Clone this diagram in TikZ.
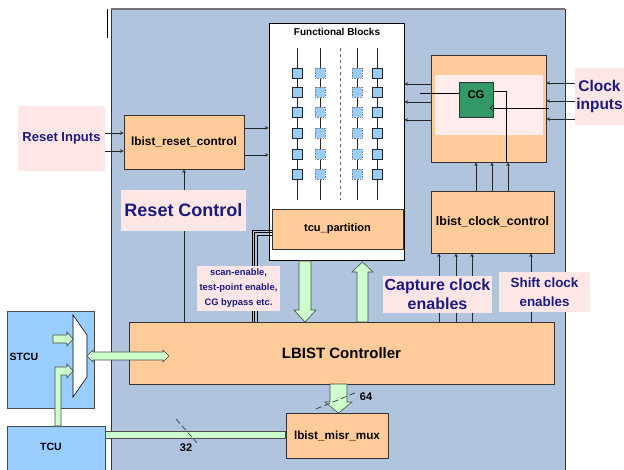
\documentclass[tikz,border=0pt]{standalone}
\usepackage{fontspec}
\setmainfont{Liberation Sans}
\definecolor{panelblue}{RGB}{176,196,222}
\definecolor{blkorange}{RGB}{255,204,153}
\definecolor{lblpink}{RGB}{255,230,230}
\definecolor{cellblue}{RGB}{153,204,255}
\definecolor{busgreen}{RGB}{204,255,204}
\definecolor{cggreen}{RGB}{51,153,102}
\definecolor{lblnavy}{RGB}{26,26,128}
\newcommand{\txtsz}[2]{\fontsize{#1}{#2}\selectfont\bfseries}
\tikzset{
  blk/.style={draw=black!80,fill=blkorange,line width=0.8pt,inner sep=0pt},
  lbl/.style={fill=lblpink,text=lblnavy,align=center,inner sep=0pt},
  sig/.style={->,black!85,line width=0.6pt},
  bus/.style={draw=black!70,fill=busgreen,line width=0.6pt},
  cell/.style={draw=black!85,fill=cellblue,minimum size=10pt,inner sep=0pt,line width=0.6pt},
  cellx/.style={cell,draw=black!50,densely dotted},
  slash/.style={black!85,line width=0.6pt,dash pattern=on 6pt off 3pt}
}
\begin{document}
\begin{tikzpicture}[x=1pt,y=-1pt,>=stealth]
\useasboundingbox (0,0) rectangle (624,470);
% panel
\fill[panelblue] (111,9) rectangle (565,472);
\draw[black!80,line width=0.8pt] (111,472)--(111,9) (565,9)--(565,472);
\draw[black!55,line width=1.5pt] (111,9)--(565,9);
\draw[line width=0.8pt] (107,9)--(107,38);
% functional blocks
\node[draw,fill=white,line width=1pt,minimum width=135pt,minimum height=237pt] (fb) at (336.5,142.5) {};
\node[font=\txtsz{10}{12}] (fbtitle) at (337,32) {Functional Blocks};
\foreach \cx/\st in {297/cell,320/cellx,357/cellx,377/cell}{
  \draw[black!85,line width=0.6pt] (\cx,48)--(\cx,200);
  \foreach \cy in {73,92,112,133,154,174}
    \node[\st] (c-\cx-\cy) at (\cx,\cy) {};
}
\draw[black!60,dashed,line width=1pt] (340,48)--(340,200);
\node[blk,minimum width=131pt,minimum height=40pt,font=\txtsz{11}{13}] (tcup) at (337.5,229) {tcu\_partition};
% blocks
\node[blk,minimum width=120pt,minimum height=54pt,font=\txtsz{11.8}{14}] (rst) at (184,142) {lbist\_reset\_control};
\node[blk,minimum width=115pt,minimum height=107pt] (clkbox) at (488.5,108.5) {};
\fill[lblpink!70!white] (435,75) rectangle (543,135);
\node[draw=black!80,fill=cggreen,line width=0.8pt,minimum width=34pt,minimum height=35pt,text depth=10pt,font=\txtsz{11.3}{13}] (cg) at (476,99.5) {CG};
\node[blk,minimum width=123pt,minimum height=62pt,font=\txtsz{12.4}{14}] (clkctl) at (492.5,222) {lbist\_clock\_control};
\node[blk,minimum width=425pt,minimum height=62pt,font=\txtsz{15}{18}] (lbist) at (341.5,353) {LBIST Controller};
\node[blk,minimum width=102pt,minimum height=45pt,font=\txtsz{11.7}{14}] (misr) at (337,435.5) {lbist\_misr\_mux};
\node[draw=black!70,fill=cellblue,line width=0.8pt,minimum width=87pt,minimum height=97pt] (stcu) at (50.5,359.5) {};
\node[font=\txtsz{10.5}{12}] (stcutxt) at (24,357) {STCU};
\node[draw=black!70,fill=cellblue,line width=0.8pt,minimum width=98pt,minimum height=46pt] (tcu) at (56,449) {};
\node[font=\txtsz{10.5}{12}] (tcutxt) at (51,447) {TCU};
\draw[fill=white,line width=0.6pt] (73,315)--(87,335)--(87,377)--(73,397)--cycle;
\coordinate (muxout) at (87,356);
\node[lbl,minimum width=87pt,minimum height=65pt,font=\txtsz{13}{15}] (rstin) at (61.5,138.5) {Reset Inputs};
\node[lbl,minimum width=49pt,minimum height=57pt,font=\txtsz{15.5}{18}] (clkin) at (599.5,96.5) {Clock\\inputs};
% signals
\draw[sig] (rstin.east |- 0,133) -- (rst.west |- 0,133);
\draw[sig] (rstin.east |- 0,151) -- (rst.west |- 0,151);
\draw[sig] (rst.east |- 0,128) -- (fb.west |- 0,128);
\draw[sig] (rst.east |- 0,155) -- (fb.west |- 0,155);
\draw[sig] (lbist.north -| rst.south) -- (rst.south);
\foreach \yy in {84,102,120}
  \draw[sig] (clkbox.west |- 0,\yy) -- (fb.east |- 0,\yy);
\foreach \yy in {83,101,119}
  \draw[sig] (clkin.west |- 0,\yy) -- (clkbox.east |- 0,\yy);
\draw[line width=0.6pt] (cg.west |- 0,93) -- (420,93);
\draw[line width=0.6pt] (549,108) -- (cg.east |- 0,108);
\draw[line width=0.5pt] (493,105.5)--(490,108)--(493,110.5);
\draw[line width=0.6pt] (cg.east |- 0,91) -- (506,91) -- (506,162);
\foreach \xx in {476,492,508}
  \draw[sig] (clkctl.north -| \xx,0) -- (clkbox.south -| \xx,0);
\foreach \xx in {439,456,472,531}
  \draw[sig] (lbist.north -| \xx,0) -- (clkctl.south -| \xx,0);
\foreach \d in {0,2.5,5}
  \draw[line width=0.5pt] (tcup.west |- 0,230+\d) -- (252+\d,230+\d) -- (lbist.north -| 252+\d,0);
% labels
\node[lbl,minimum width=125pt,minimum height=41pt,font=\txtsz{18}{21}] (rstctl) at (183.5,210.5) {Reset Control};
\node[lbl,minimum width=83pt,minimum height=45pt,font=\txtsz{9.4}{15}] (scanlbl) at (238.5,288.5) {scan-enable,\\test-point enable,\\CG bypass etc.};
\node[lbl,minimum width=109pt,minimum height=37pt,font=\txtsz{16}{19}] (caplbl) at (437.5,294.5) {Capture clock\\enables};
\node[lbl,minimum width=91pt,minimum height=40pt,font=\txtsz{13.4}{19}] (shiftlbl) at (544.5,292) {Shift clock\\enables};
% buses
\draw[bus] (299,261)--(311,261)--(311,310)--(316,310)--(305,322)--(294,310)--(299,310)--cycle;
\draw[bus] (357,322)--(357,272)--(352,272)--(362.5,262)--(373,272)--(368,272)--(368,322)--cycle;
\draw[bus] (330,384)--(347,384)--(347,402)--(352,402)--(338.5,413)--(325,402)--(330,402)--cycle;
\draw[bus] (muxout)--(93,350)--(93,352)--(163,352)--(163,350)--(169,356)--(163,362)--(163,360)--(93,360)--(93,362)--cycle;
\draw[bus] (53,335)--(67,335)--(67,332)--(73,339)--(67,346)--(67,343)--(53,343)--cycle;
\draw[bus] (55,426)--(55,367)--(67,367)--(67,364)--(73,371)--(67,378)--(67,375)--(61,375)--(61,426)--cycle;
\draw[bus] (tcu.east |- 0,431) rectangle (misr.west |- 0,438);
% widths
\draw[slash] (176,419)--(197,443);
\node[font=\txtsz{11}{13}] (w32) at (186,448) {32};
\draw[slash] (316,409)--(357,392);
\node[font=\txtsz{11}{13}] (w64) at (366,397) {64};
\end{tikzpicture}
\end{document}
